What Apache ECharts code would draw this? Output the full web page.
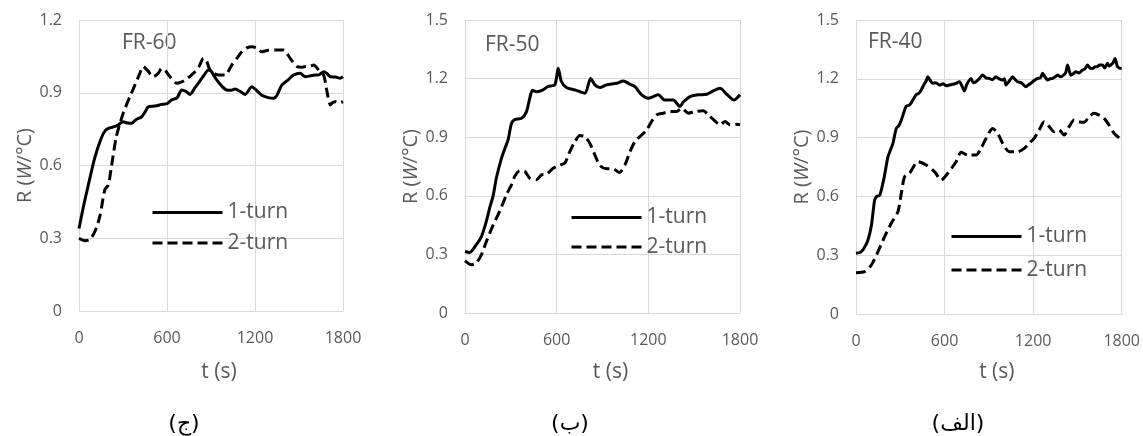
<!DOCTYPE html>
<html>
<head>
<meta charset="utf-8">
<script src="https://cdn.jsdelivr.net/npm/echarts@6/dist/echarts.min.js"></script>
<style>
  html, body { margin: 0; padding: 0; background: #fff; }
  #chart { width: 1143px; height: 436px; }
</style>
</head>
<body>
<div id="chart"></div>
<script>
// Thermal conductance R (W/°C) versus time for three fill ratios, 1-turn and 2-turn pipes.

const seriesNames = ['1-turn', '2-turn'];
const panelTitles = ['FR-60', 'FR-50', 'FR-40'];
const panelCaptions = ['(ج)', '(ب)', '(الف)'];
const xTicks = [0, 600, 1200, 1800];
const yMaxes = [1.2, 1.5, 1.5];

// FR-60
const fr60OneT = [0, 30, 60, 107, 150, 180, 210, 240, 267, 300, 330, 358, 390, 426, 450, 472, 520, 563, 600, 631, 670, 700, 730, 757, 790, 813, 850, 882, 900, 930, 970, 1007, 1040, 1064, 1100, 1133, 1178, 1210, 1246, 1290, 1326, 1350, 1383, 1420, 1463, 1508, 1543, 1580, 1611, 1640, 1668, 1690, 1714, 1750, 1780, 1800];
const fr60OneR = [0.34, 0.43, 0.51, 0.63, 0.71, 0.745, 0.755, 0.76, 0.767, 0.78, 0.775, 0.774, 0.79, 0.80, 0.82, 0.842, 0.845, 0.852, 0.855, 0.87, 0.88, 0.911, 0.905, 0.893, 0.92, 0.939, 0.97, 0.994, 0.99, 0.96, 0.93, 0.911, 0.91, 0.915, 0.905, 0.893, 0.925, 0.91, 0.89, 0.88, 0.877, 0.89, 0.932, 0.95, 0.973, 0.98, 0.966, 0.97, 0.973, 0.975, 0.987, 0.98, 0.966, 0.965, 0.96, 0.966];
const fr60TwoT = [0, 40, 75, 110, 142, 176, 200, 221, 255, 301, 347, 380, 415, 437, 470, 506, 540, 563, 590, 620, 666, 700, 722, 760, 791, 820, 848, 870, 893, 920, 950, 996, 1041, 1080, 1110, 1145, 1178, 1210, 1246, 1290, 1337, 1394, 1420, 1440, 1486, 1520, 1543, 1575, 1600, 1634, 1668, 1691, 1714, 1730, 1748, 1775, 1800];
const fr60TwoR = [0.30, 0.29, 0.295, 0.33, 0.39, 0.50, 0.52, 0.595, 0.72, 0.815, 0.884, 0.93, 0.98, 1.008, 0.99, 0.966, 0.98, 1.0, 0.99, 0.966, 0.939, 0.945, 0.952, 0.97, 0.987, 1.01, 1.042, 1.03, 0.994, 0.98, 0.973, 0.973, 1.014, 1.045, 1.069, 1.085, 1.09, 1.085, 1.069, 1.075, 1.076, 1.076, 1.06, 1.042, 1.008, 1.005, 1.008, 1.01, 1.014, 0.994, 0.973, 0.904, 0.85, 0.86, 0.863, 0.858, 0.863];

// FR-50
const fr50OneT = [0, 31, 74, 107, 140, 162, 184, 205, 238, 260, 282, 304, 325, 370, 402, 424, 442, 468, 511, 544, 588, 610, 631, 664, 719, 784, 822, 850, 883, 926, 992, 1036, 1080, 1112, 1156, 1200, 1232, 1265, 1309, 1363, 1407, 1429, 1473, 1527, 1582, 1625, 1669, 1713, 1761, 1800];
const fr50OneR = [0.315, 0.31, 0.35, 0.39, 0.47, 0.54, 0.60, 0.69, 0.79, 0.84, 0.886, 0.97, 0.99, 0.997, 1.03, 1.10, 1.14, 1.133, 1.142, 1.16, 1.168, 1.253, 1.185, 1.154, 1.142, 1.125, 1.20, 1.168, 1.154, 1.168, 1.176, 1.188, 1.171, 1.159, 1.117, 1.10, 1.108, 1.117, 1.09, 1.09, 1.057, 1.08, 1.108, 1.117, 1.12, 1.137, 1.15, 1.12, 1.09, 1.117];
const fr50TwoT = [0, 42, 74, 107, 140, 184, 227, 271, 304, 326, 358, 391, 424, 468, 500, 533, 577, 621, 653, 686, 719, 752, 784, 817, 850, 883, 926, 970, 1010, 1047, 1080, 1112, 1156, 1189, 1221, 1254, 1298, 1341, 1385, 1418, 1462, 1505, 1560, 1593, 1636, 1669, 1702, 1735, 1778, 1800];
const fr50TwoR = [0.267, 0.247, 0.256, 0.298, 0.366, 0.45, 0.52, 0.605, 0.656, 0.70, 0.728, 0.725, 0.69, 0.682, 0.707, 0.71, 0.741, 0.758, 0.767, 0.826, 0.877, 0.909, 0.903, 0.869, 0.809, 0.755, 0.738, 0.738, 0.719, 0.758, 0.826, 0.877, 0.911, 0.937, 0.98, 1.014, 1.023, 1.031, 1.031, 1.048, 1.023, 1.031, 1.035, 1.014, 0.983, 0.963, 0.98, 0.963, 0.966, 0.963];

// FR-40
const fr40OneT = [0, 30, 50, 80, 104, 126, 140, 160, 180, 194, 216, 235, 250, 273, 290, 307, 325, 340, 360, 374, 392, 408, 425, 442, 460, 476, 487, 500, 520, 540, 566, 590, 610, 633, 655, 678, 700, 720, 734, 750, 765, 779, 795, 813, 835, 858, 880, 903, 925, 948, 970, 993, 1005, 1016, 1040, 1061, 1080, 1095, 1120, 1151, 1170, 1185, 1205, 1230, 1250, 1264, 1280, 1298, 1315, 1332, 1350, 1365, 1385, 1400, 1420, 1433, 1445, 1456, 1470, 1489, 1510, 1534, 1550, 1568, 1585, 1601, 1618, 1635, 1650, 1669, 1685, 1703, 1715, 1725, 1740, 1755, 1771, 1785, 1800];
const fr40OneR = [0.31, 0.315, 0.33, 0.375, 0.45, 0.58, 0.60, 0.605, 0.66, 0.71, 0.80, 0.84, 0.87, 0.947, 0.96, 0.99, 1.03, 1.06, 1.065, 1.077, 1.10, 1.12, 1.125, 1.143, 1.17, 1.19, 1.211, 1.195, 1.177, 1.18, 1.168, 1.175, 1.165, 1.168, 1.172, 1.177, 1.185, 1.16, 1.138, 1.17, 1.19, 1.202, 1.18, 1.185, 1.20, 1.219, 1.205, 1.202, 1.195, 1.211, 1.20, 1.194, 1.20, 1.168, 1.19, 1.211, 1.195, 1.185, 1.18, 1.16, 1.17, 1.177, 1.19, 1.202, 1.205, 1.228, 1.21, 1.194, 1.20, 1.202, 1.21, 1.219, 1.21, 1.215, 1.23, 1.27, 1.24, 1.219, 1.225, 1.236, 1.23, 1.245, 1.25, 1.27, 1.255, 1.253, 1.26, 1.262, 1.27, 1.27, 1.255, 1.279, 1.265, 1.27, 1.28, 1.304, 1.262, 1.255, 1.253];
const fr40TwoT = [0, 59, 104, 149, 194, 239, 284, 307, 329, 363, 419, 476, 532, 577, 622, 678, 712, 757, 813, 847, 881, 926, 960, 993, 1039, 1095, 1140, 1173, 1207, 1241, 1275, 1309, 1342, 1376, 1410, 1444, 1478, 1511, 1545, 1579, 1613, 1647, 1681, 1714, 1748, 1800];
const fr40TwoR = [0.211, 0.216, 0.25, 0.318, 0.395, 0.463, 0.522, 0.616, 0.70, 0.718, 0.777, 0.76, 0.726, 0.684, 0.718, 0.777, 0.825, 0.811, 0.811, 0.845, 0.896, 0.947, 0.922, 0.871, 0.828, 0.828, 0.845, 0.871, 0.896, 0.939, 0.981, 0.956, 0.93, 0.939, 0.913, 0.956, 0.99, 0.981, 0.978, 1.007, 1.024, 1.015, 0.998, 0.964, 0.922, 0.888];

const panelSeries = [
  [[fr60OneT, fr60OneR], [fr60TwoT, fr60TwoR]],
  [[fr50OneT, fr50OneR], [fr50TwoT, fr50TwoR]],
  [[fr40OneT, fr40OneR], [fr40TwoT, fr40TwoR]]
];

// Layout of the three plot areas (px)
const grids = [
  { left: 79, top: 20, width: 264, height: 291 },
  { left: 465, top: 20, width: 275, height: 293 },
  { left: 856, top: 20, width: 267, height: 294 }
];
const legendPos = [
  { left: 151, top: 202, itemGap: 9.5 },
  { left: 570, top: 207, itemGap: 8.5 },
  { left: 950, top: 226, itemGap: 12.5 }
];
const titlePos = [[122, 47], [485, 49], [868, 46]];
const captionPos = [[184, 424], [570, 424], [958, 424]];

const FONT = '"Open Sans", "Noto Sans", sans-serif';
const GREY = '#595959';
const GRIDC = '#d9d9d9';

const zip = (t, r) => t.map((v, i) => [v, r[i]]);

const xAxis = [], yAxis = [], series = [], legend = [], graphic = [];

grids.forEach((g, p) => {
  xAxis.push({
    gridIndex: p, type: 'value', min: 0, max: 1800, interval: 600,
    name: 't (s)', nameLocation: 'middle', nameGap: 51 - (g.top + g.height - 311),
    nameTextStyle: { color: GREY, fontSize: 21, fontFamily: FONT, padding: [0, 0, 0, 16] },
    axisLine: { show: true, lineStyle: { color: GRIDC, width: 1 } },
    axisTick: { show: false },
    axisLabel: { color: GREY, fontSize: 16, fontFamily: FONT, margin: 19,
      formatter: v => xTicks.includes(v) ? String(v) : '' },
    splitLine: { show: true, lineStyle: { color: GRIDC, width: 1 } }
  });
  yAxis.push({
    gridIndex: p, type: 'value', min: 0, max: yMaxes[p], interval: 0.3,
    name: 'R ({i|W}/°C)', nameLocation: 'middle', nameGap: 42,
    nameTextStyle: { color: GREY, fontSize: 20, fontFamily: FONT,
      rich: { i: { fontStyle: 'italic', color: GREY, fontSize: 20, fontFamily: FONT } } },
    axisLine: { show: false },
    axisTick: { show: false },
    axisLabel: { color: GREY, fontSize: 16, fontFamily: FONT, margin: 17,
      formatter: v => v === 0 ? '0' : v.toFixed(1) },
    splitLine: { show: true, lineStyle: { color: GRIDC, width: 1 } }
  });
  panelSeries[p].forEach((pair, k) => {
    series.push({
      name: seriesNames[k], type: 'line', xAxisIndex: p, yAxisIndex: p,
      data: zip(pair[0], pair[1]),
      symbol: 'none', smooth: 0.25, animation: false,
      lineStyle: { color: '#000', width: 3, type: k === 0 ? 'solid' : [10, 5], cap: 'butt' },
      itemStyle: { color: '#000' }
    });
  });
  legend.push({
    data: seriesNames, orient: 'vertical',
    left: legendPos[p].left, top: legendPos[p].top, itemGap: legendPos[p].itemGap,
    itemWidth: 70, itemHeight: 20, padding: 0,
    selectedMode: false,
    // line-only key: hide the marker that line legends draw by default
    itemStyle: { color: 'rgba(0,0,0,0)', borderWidth: 0, opacity: 0 },
    lineStyle: { width: 3 },
    textStyle: { color: GREY, fontSize: 21, fontFamily: FONT, lineHeight: 20 }
  });
  graphic.push({
    type: 'text', left: titlePos[p][0], top: titlePos[p][1] - 14,
    style: { text: panelTitles[p], fill: GREY, font: '21px ' + FONT }
  });
  graphic.push({
    type: 'text', x: captionPos[p][0], y: captionPos[p][1],
    style: { text: panelCaptions[p], fill: '#000', font: '22px "DejaVu Sans", sans-serif',
      align: 'center', verticalAlign: 'middle' }
  });
});

const chart = echarts.init(document.getElementById('chart'), null, { renderer: 'canvas' });
chart.setOption({
  backgroundColor: '#fff',
  animation: false,
  grid: grids.map(g => Object.assign({ containLabel: false }, g)),
  xAxis, yAxis, series, legend, graphic
});
</script>
</body>
</html>
